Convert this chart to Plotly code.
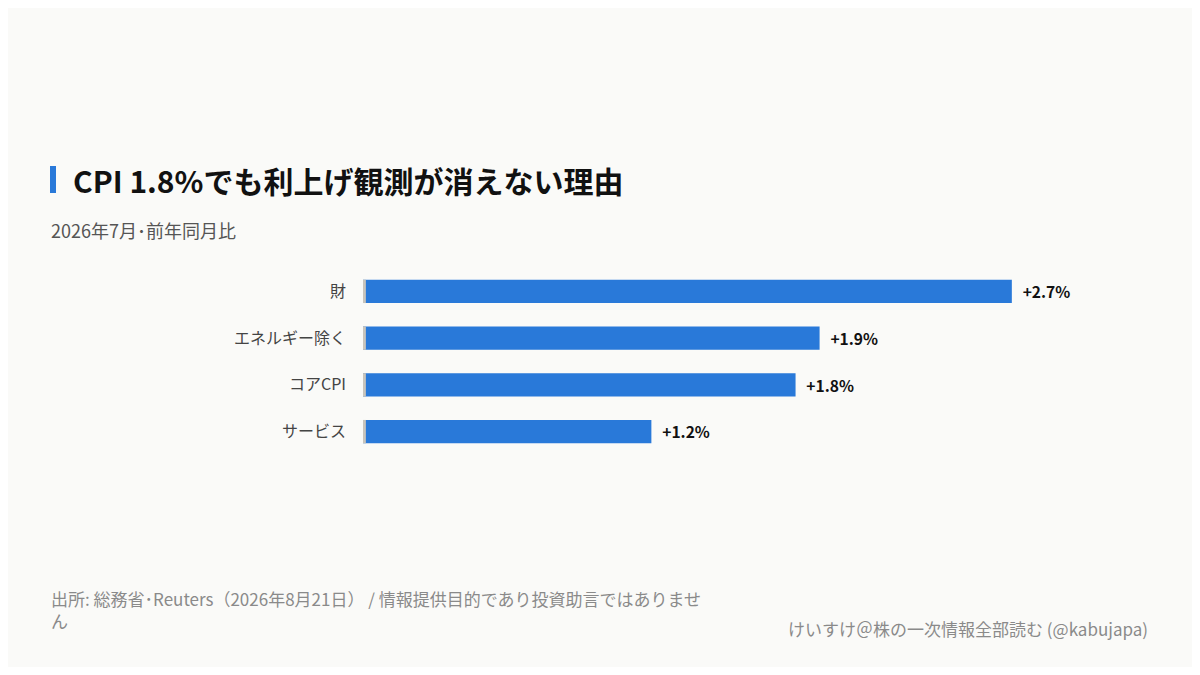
import plotly.graph_objects as go

categories = ["財", "エネルギー除く", "コアCPI", "サービス"]
values = [2.7, 1.9, 1.8, 1.2]
labels = ["+2.7%", "+1.9%", "+1.8%", "+1.2%"]

FONT = "Noto Sans CJK JP"
BG = "#FAFAF8"
BLUE = "#2979D9"


def px(xs):
    # screen x pixel -> paper x
    return (xs - 363) / 769


def py(ys):
    # screen y pixel -> paper y
    return 1 + (268 - ys) / 187


fig = go.Figure()
fig.add_trace(go.Bar(
    x=values, y=categories, orientation="h",
    marker=dict(color=BLUE, line=dict(width=0)),
    text=["<b>" + t + "</b>" for t in labels], textposition="outside",
    cliponaxis=False,
    textfont=dict(family=FONT, size=16, color="#111111"),
    width=0.5,
))
# thin gray stub at the start of each bar
fig.add_trace(go.Bar(
    x=[0.012] * len(categories), y=categories, orientation="h",
    marker=dict(color="#C8C4BC", line=dict(width=0)),
    width=0.5, hoverinfo="skip",
))

fig.update_layout(
    width=1184, height=659,
    barmode="overlay",
    paper_bgcolor=BG, plot_bgcolor=BG,
    margin=dict(l=355, r=60, t=260, b=212),
    showlegend=False,
    font=dict(family=FONT),
    uniformtext=dict(minsize=10),
    xaxis=dict(range=[-0.0, 3.2], visible=False, fixedrange=True),
    yaxis=dict(autorange=False, range=[3.5, -0.5], showgrid=False,
               showline=False, ticks="", ticklabelstandoff=16,
               tickfont=dict(family=FONT, size=16, color="#444444")),
    shapes=[dict(type="rect", xref="paper", yref="paper",
                 x0=px(50), x1=px(56), y0=py(193), y1=py(166),
                 fillcolor=BLUE, line=dict(width=0))],
)
fig.update_traces(selector=dict(type="bar"), textangle=0)
fig.data[0].text = ["\u2002" + "<b>" + t + "</b>" for t in labels]

fig.add_annotation(text="<b>CPI 1.8%でも利上げ観測が消えない理由</b>",
                   xref="paper", yref="paper", x=px(71), y=py(180),
                   xanchor="left", yanchor="middle", showarrow=False,
                   font=dict(family=FONT, size=30, color="#111111"))
fig.add_annotation(text="2026年7月･前年同月比",
                   xref="paper", yref="paper", x=px(49), y=py(230),
                   xanchor="left", yanchor="middle", showarrow=False,
                   font=dict(family=FONT, size=18, color="#555555"))
fig.add_annotation(text="出所: 総務省･Reuters（2026年8月21日） / 情報提供目的であり投資助言ではありませ<br>ん",
                   xref="paper", yref="paper", x=px(49), y=py(584),
                   xanchor="left", yanchor="top", showarrow=False, align="left",
                   font=dict(family=FONT, size=17, color="#8A8A8A"))
fig.add_annotation(text="けいすけ＠株の一次情報全部読む (@kabujapa)",
                   xref="paper", yref="paper", x=px(1150), y=py(628),
                   xanchor="right", yanchor="middle", showarrow=False,
                   font=dict(family=FONT, size=17, color="#8A8A8A"))

fig.write_html("out.html")
